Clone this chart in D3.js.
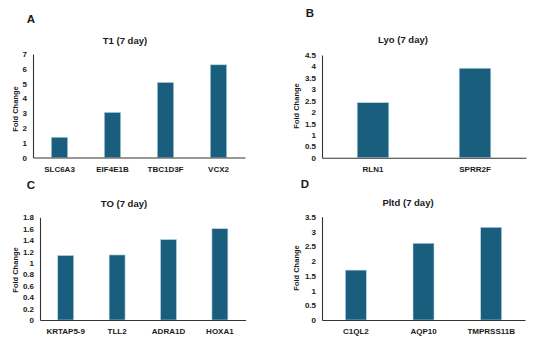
<!DOCTYPE html>
<html><head><meta charset="utf-8">
<script src="https://cdn.jsdelivr.net/npm/d3@7"></script>
<style>body{margin:0;background:#fff}svg{display:block}text{font-family:"Liberation Sans",Arial,sans-serif;font-weight:bold;fill:#1a1a1a}</style>
</head><body>
<script>
const catsA = ["SLC6A3","EIF4E1B","TBC1D3F","VCX2"];
const valsA = [1.37, 3.05, 5.08, 6.27];
const ticksA = [0,1,2,3,4,5,6,7];
const catsB = ["RLN1","SPRR2F"];
const valsB = [2.41, 3.92];
const ticksB = [0,0.5,1,1.5,2,2.5,3,3.5,4,4.5];
const catsC = ["KRTAP5-9","TLL2","ADRA1D","HOXA1"];
const valsC = [1.13, 1.14, 1.41, 1.60];
const ticksC = [0,0.2,0.4,0.6,0.8,1,1.2,1.4,1.6,1.8];
const catsD = ["C1QL2","AQP10","TMPRSS11B"];
const valsD = [1.69, 2.60, 3.14];
const ticksD = [0,0.5,1,1.5,2,2.5,3,3.5];
const titles = ["T1 (7 day)","Lyo (7 day)","TO (7 day)","Pltd (7 day)"];
const letters = ["A","B","C","D"];

const panels = [
  {cats:catsA, vals:valsA, ticks:ticksA, x0:33, x1:245, y0:157.5, y1:54, title:titles[0], tx:125, ty:40, letter:letters[0], lx:31, ly:19, ylx:15, yly:109},
  {cats:catsB, vals:valsB, ticks:ticksB, x0:322, x1:526, y0:157.7, y1:55, title:titles[1], tx:403, ty:39, letter:letters[1], lx:310, ly:13, ylx:296, yly:106},
  {cats:catsC, vals:valsC, ticks:ticksC, x0:40, x1:245.6, y0:320, y1:217.3, title:titles[2], tx:124, ty:203, letter:letters[2], lx:31, ly:185, ylx:15, yly:270},
  {cats:catsD, vals:valsD, ticks:ticksD, x0:322, x1:525, y0:320, y1:216.7, title:titles[3], tx:408, ty:202, letter:letters[3], lx:305, ly:184, ylx:296, yly:268}
];

const svg = d3.select("body").append("svg").attr("width",534).attr("height",341);

panels.forEach(p => {
  const g = svg.append("g");
  const x = d3.scaleBand().domain(p.cats).range([p.x0, p.x1]).paddingInner(0.69).paddingOuter(0.345);
  const ymax = p.ticks[p.ticks.length-1];
  const y = d3.scaleLinear().domain([0, ymax]).range([p.y0, p.y1]);

  g.selectAll("rect.bar").data(p.vals).join("rect")
    .attr("class","bar")
    .attr("x",(d,i)=>x(p.cats[i]))
    .attr("width",x.bandwidth())
    .attr("y",d=>y(d))
    .attr("height",d=>y(0)-y(d))
    .attr("fill","#1a5e7e")
    .attr("stroke","#b7d6e4")
    .attr("stroke-width",0.6);

  const ya = d3.axisLeft(y).tickValues(p.ticks).tickSize(0).tickPadding(6).tickFormat(d=>String(d));
  const yg = g.append("g").attr("transform",`translate(${p.x0},0)`).call(ya);
  yg.select(".domain").attr("stroke","#333").attr("stroke-width",1.1);
  yg.selectAll("text").style("font-size","8px").attr("fill","#1a1a1a").attr("font-family",null);

  const xa = d3.axisBottom(x).tickSize(0).tickPadding(8.5);
  const xg = g.append("g").attr("transform",`translate(0,${p.y0})`).call(xa);
  xg.select(".domain").attr("stroke","#333").attr("stroke-width",1.1);
  xg.selectAll("text").style("font-size","8px").attr("fill","#1a1a1a").attr("font-family",null);

  g.append("text").attr("x",p.tx).attr("y",p.ty).attr("text-anchor","middle")
    .attr("dominant-baseline","central").style("font-size","9.5px").text(p.title);
  g.append("text").attr("x",p.lx).attr("y",p.ly).attr("text-anchor","middle")
    .attr("dominant-baseline","central").style("font-size","11.5px").text(p.letter);
  g.append("text").attr("transform",`translate(${p.ylx},${p.yly}) rotate(-90)`)
    .attr("text-anchor","middle").attr("dominant-baseline","central")
    .style("font-size","7.5px").text("Fold Change");
});
</script>
</body></html>
